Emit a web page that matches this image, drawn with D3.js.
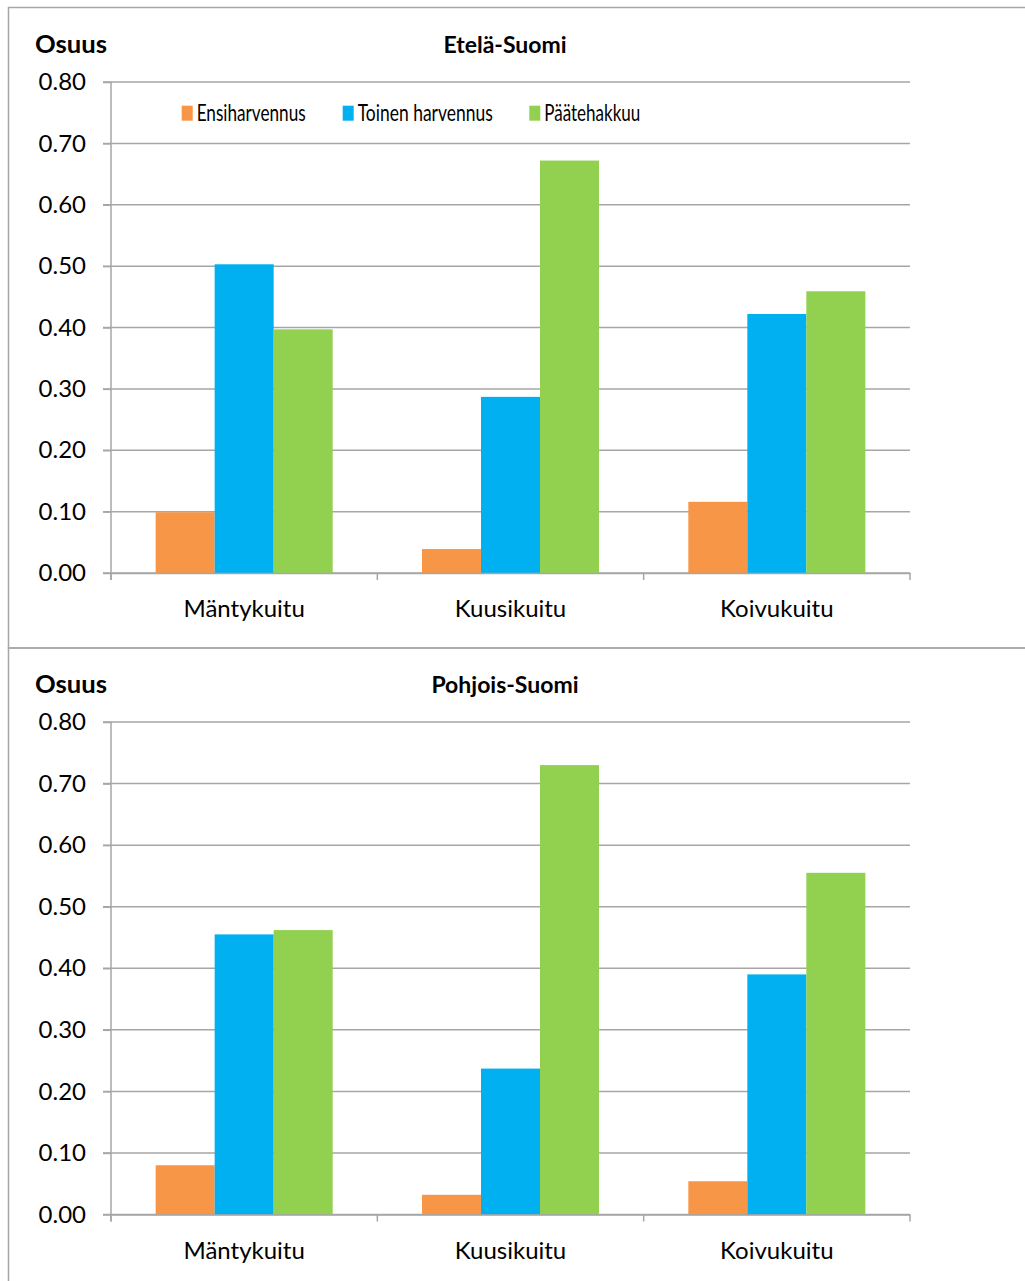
<!DOCTYPE html>
<html>
<head>
<meta charset="utf-8">
<script src="https://cdn.jsdelivr.net/npm/d3@7"></script>
<style>
  html, body { margin: 0; padding: 0; background: #ffffff; }
  svg { display: block; }
  text { font-family: Lato, "Open Sans", "Liberation Sans", sans-serif; fill: #000; }
</style>
</head>
<body>
<svg id="chart" width="1025" height="1281"></svg>
<script>
// ---- data ----
const categories = ["Mäntykuitu", "Kuusikuitu", "Koivukuitu"];
const seriesNames = ["Ensiharvennus", "Toinen harvennus", "Päätehakkuu"];
const seriesColors = ["#F79646", "#00B0F0", "#92D050"];
const yTicks = [0, 0.1, 0.2, 0.3, 0.4, 0.5, 0.6, 0.7, 0.8];
const yAxisTitle = "Osuus";

const southTitle = "Etelä-Suomi";
const southEnsiharvennus = [0.099, 0.039, 0.116];
const southToinenHarvennus = [0.503, 0.287, 0.422];
const southPaatehakkuu = [0.397, 0.672, 0.459];

const northTitle = "Pohjois-Suomi";
const northEnsiharvennus = [0.080, 0.032, 0.054];
const northToinenHarvennus = [0.455, 0.237, 0.390];
const northPaatehakkuu = [0.462, 0.730, 0.555];

const panels = [
  { title: southTitle, values: [southEnsiharvennus, southToinenHarvennus, southPaatehakkuu],
    boxY: 7.5, boxH: 640.5, plotTop: 82, plotBot: 573, legend: true },
  { title: northTitle, values: [northEnsiharvennus, northToinenHarvennus, northPaatehakkuu],
    boxY: 648, boxH: 660, plotTop: 722, plotBot: 1214.5, legend: false }
];

const svg = d3.select("#chart");
const plotLeft = 111, plotRight = 910;
const gridColor = "#a6a6a6";

panels.forEach(p => {
  const g = svg.append("g");

  // panel border
  g.append("rect")
    .attr("x", 8.5).attr("y", p.boxY)
    .attr("width", 1040).attr("height", p.boxH)
    .attr("fill", "none").attr("stroke", "#a6a6a6").attr("stroke-width", 1.5);

  const y = d3.scaleLinear().domain([0, 0.8]).range([p.plotBot, p.plotTop]);
  const x0 = d3.scaleBand().domain(categories).range([plotLeft, plotRight]).padding(0);
  const x1 = d3.scaleBand().domain(seriesNames).range([0, x0.bandwidth()])
    .paddingInner(0).paddingOuter(0.757);

  // gridlines
  g.append("g").selectAll("line").data(yTicks).join("line")
    .attr("x1", plotLeft - 8).attr("x2", plotRight)
    .attr("y1", d => y(d)).attr("y2", d => y(d))
    .attr("stroke", gridColor).attr("stroke-width", 1.5);

  // y axis (labels)
  const yAxis = d3.axisLeft(y).tickValues(yTicks).tickFormat(d3.format(".2f"))
    .tickSizeInner(8).tickSizeOuter(0).tickPadding(17);
  const ya = g.append("g").attr("transform", `translate(${plotLeft},0)`).call(yAxis);
  ya.select(".domain").remove();
  ya.selectAll(".tick line").attr("stroke", gridColor).attr("stroke-width", 1.5);
  ya.selectAll(".tick text").style("font-size", "24px").style("font-family", "Lato, sans-serif")
    .attr("fill", "#000");

  // bars
  p.values.forEach((vals, si) => {
    g.append("g").selectAll("rect").data(vals).join("rect")
      .attr("x", (d, i) => x0(categories[i]) + x1(seriesNames[si]))
      .attr("width", x1.bandwidth())
      .attr("y", d => y(d))
      .attr("height", d => y(0) - y(d))
      .attr("fill", seriesColors[si]);
  });

  // y axis line
  g.append("line").attr("x1", plotLeft).attr("x2", plotLeft)
    .attr("y1", p.plotTop).attr("y2", p.plotBot + 7)
    .attr("stroke", gridColor).attr("stroke-width", 1.5);

  // x axis
  const xAxis = d3.axisBottom(x0).tickSize(0).tickPadding(27);
  const xa = g.append("g").attr("transform", `translate(0,${p.plotBot})`).call(xAxis);
  xa.select(".domain").attr("stroke", gridColor).attr("stroke-width", 1.5);
  xa.selectAll(".tick text").style("font-size", "24px").style("font-family", "Lato, sans-serif")
    .attr("fill", "#000");
  // category boundary ticks
  const bounds = categories.map(c => x0(c)).concat([plotRight]);
  g.append("g").selectAll("line").data(bounds).join("line")
    .attr("x1", d => d).attr("x2", d => d)
    .attr("y1", p.plotBot).attr("y2", p.plotBot + 7)
    .attr("stroke", gridColor).attr("stroke-width", 1.5);

  // titles
  g.append("text").attr("x", 35).attr("y", p.plotTop - 29)
    .attr("textLength", 72).attr("lengthAdjust", "spacingAndGlyphs")
    .style("font-size", "24px").style("font-weight", "bold").text(yAxisTitle);
  g.append("text").attr("x", 505).attr("y", p.plotTop - 29)
    .attr("text-anchor", "middle")
    .style("font-size", "23px").style("font-weight", "bold").text(p.title);

  // legend
  if (p.legend) {
    const lx = [181.7, 342.7, 529.3];
    const lw = [109, 135, 96];
    const lg = g.append("g");
    seriesNames.forEach((s, i) => {
      lg.append("rect").attr("x", lx[i]).attr("y", 105.7).attr("width", 11).attr("height", 15)
        .attr("fill", seriesColors[i]);
      lg.append("text").attr("x", lx[i] + 15).attr("y", 121)
        .attr("textLength", lw[i]).attr("lengthAdjust", "spacingAndGlyphs")
        .style("font-size", "23px").text(s);
    });
  }
});
</script>
</body>
</html>
